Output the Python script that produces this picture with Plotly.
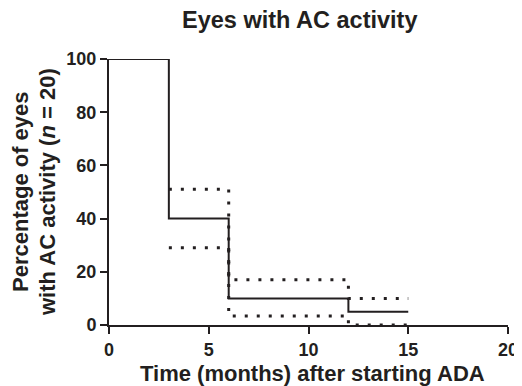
import plotly.graph_objects as go

# Kaplan-Meier data (months, percentage)
km_times = [0, 3, 6, 12, 15]
km_values = [100, 40, 10, 5, 5]
ci_times = [3, 6, 12, 15]
ci_upper = [51, 17, 10, 10]
ci_lower = [29, 3.4, 0, 0]

x_ticks = [0, 5, 10, 15, 20]
y_ticks = [0, 20, 40, 60, 80, 100]

FONT = "Liberation Sans, Arial, Helvetica, sans-serif"
INK = "#231f20"
dotted = dict(color=INK, width=3, dash="3px,9px", shape="hv")

fig = go.Figure()
fig.add_trace(go.Scatter(x=ci_times, y=ci_upper, mode="lines", line=dotted,
                         cliponaxis=False, hoverinfo="skip"))
fig.add_trace(go.Scatter(x=ci_times, y=ci_lower, mode="lines", line=dotted,
                         cliponaxis=False, hoverinfo="skip"))
fig.add_trace(go.Scatter(x=km_times, y=km_values, mode="lines",
                         line=dict(color=INK, width=2, shape="hv"),
                         cliponaxis=False))

axis_common = dict(
    showgrid=False, zeroline=False, showline=True, linecolor=INK,
    linewidth=2, ticks="outside", ticklen=7, tickwidth=2, tickcolor=INK,
    tickfont=dict(family=FONT, size=18, color=INK), automargin=False,
)

# page body adds an 8px offset; plot area spans px 109-508 x 59-325 on the page
fig.update_layout(
    width=514, height=378,
    margin=dict(l=101, r=14, t=51, b=61),
    paper_bgcolor="white", plot_bgcolor="white",
    showlegend=False,
    font=dict(family=FONT, color=INK),
    xaxis=dict(range=[0, 20], tickvals=x_ticks,
               ticktext=[f"<b>{v}</b>" for v in x_ticks], **axis_common),
    yaxis=dict(range=[0, 100], tickvals=y_ticks,
               ticktext=[f"<b>{v}</b>" for v in y_ticks], **axis_common),
    annotations=[
        dict(text="<b>Eyes with AC activity</b>", xref="paper", yref="paper",
             x=(300 - 109) / 399, y=(325 - 20) / 266, xanchor="center",
             yanchor="middle", showarrow=False,
             font=dict(family=FONT, size=23.5, color=INK)),
        dict(text="<b>Time (months) after starting ADA</b>", xref="paper",
             yref="paper", x=(312 - 109) / 399, y=(325 - 373) / 266,
             xanchor="center", yanchor="middle", showarrow=False,
             font=dict(family=FONT, size=22, color=INK)),
        dict(text="<b>Percentage of eyes</b>",
             xref="paper", yref="paper", x=(20 - 109) / 399, y=0.5,
             xanchor="center", yanchor="middle", textangle=-90,
             showarrow=False, font=dict(family=FONT, size=22, color=INK)),
        dict(text="<b>with AC activity (<i>n</i> = 20)</b>",
             xref="paper", yref="paper", x=(47 - 109) / 399, y=0.5,
             xanchor="center", yanchor="middle", textangle=-90,
             showarrow=False, font=dict(family=FONT, size=22, color=INK)),
    ],
)

fig.write_html("out.html")
